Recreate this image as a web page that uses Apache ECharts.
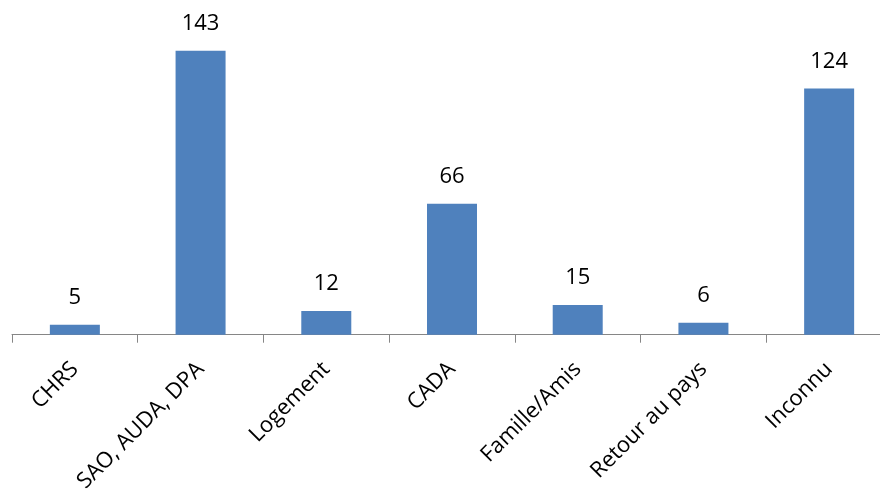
<!DOCTYPE html>
<html>
<head>
<meta charset="utf-8">
<script src="https://cdn.jsdelivr.net/npm/echarts@6/dist/echarts.min.js"></script>
<style>
  html, body { margin: 0; padding: 0; background: #fff; overflow: hidden; }
  #chart { width: 900px; height: 495px; }
</style>
</head>
<body>
<div id="chart"></div>
<script>
const categories = ["CHRS", "SAO, AUDA, DPA", "Logement", "CADA", "Famille/Amis", "Retour au pays", "Inconnu"];
const values = [5, 143, 12, 66, 15, 6, 124];

// the plot area runs past the right edge of the 880px window, as in the original
const chart = echarts.init(document.getElementById("chart"));
const font = "'Open Sans', 'Liberation Sans', sans-serif";
chart.setOption({
    animation: false,
    grid: {
        top: 17,
        left: 12,
        right: 8,
        bottom: 158,
        containLabel: false,
    },
    xAxis: {
        type: "category",
        data: categories,
        axisLine: { lineStyle: { color: "#868686", width: 1 } },
        axisTick: { show: true, length: 8, lineStyle: { color: "#868686" } },
        axisLabel: {
            rotate: 45,
            interval: 0,
            margin: 31,
            color: "#000",
            fontSize: 22,
            fontFamily: font,
        },
    },
    yAxis: {
        type: "value",
        min: 0,
        max: 160,
        show: false,
        splitLine: { show: false },
    },
    series: [
        {
            type: "bar",
            data: values,
            barWidth: 50,
            itemStyle: { color: "#4F81BD" },
            label: {
                show: true,
                position: "top",
                distance: 16,
                color: "#000",
                fontSize: 22,
                fontFamily: font,
            },
        },
    ],
});
</script>
</body>
</html>
